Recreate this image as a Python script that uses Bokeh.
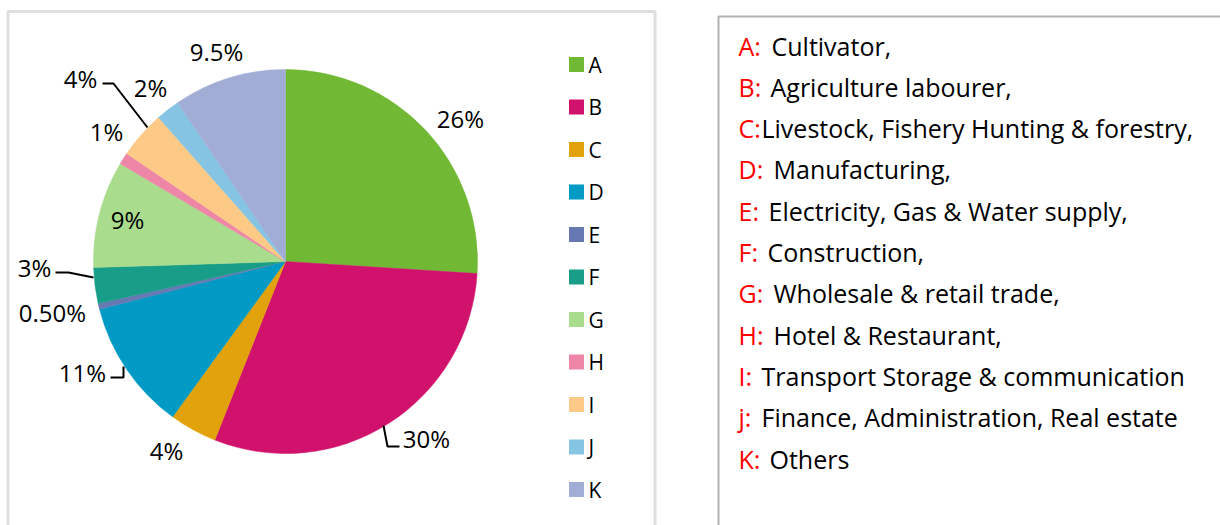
import math
from bokeh.plotting import figure
from bokeh.models import Range1d, BoxAnnotation, ColumnDataSource
from bokeh.core.properties import value
from bokeh.embed import file_html
from bokeh.resources import INLINE

# ---------------- data ----------------
categories = ["A", "B", "C", "D", "E", "F", "G", "H", "I", "J", "K"]
shares = [26, 30, 4, 11, 0.5, 3, 9, 1, 4, 2, 9.5]
share_labels = ["26%", "30%", "4%", "11%", "0.50%", "3%", "9%", "1%", "4%", "2%", "9.5%"]
colors = ["#71B934", "#D1126C", "#E2A20B", "#019AC4", "#6679B2", "#189E88",
          "#A9DC8D", "#EE87A7", "#FDC986", "#86C4E3", "#A2ADD6"]
prefixes = ["A:", "B:", "C:", "D:", "E:", "F:", "G:", "H:", "I:", "j:", "K:"]
descriptions = ["Cultivator,", "Agriculture labourer,", "Livestock, Fishery Hunting & forestry,",
                "Manufacturing,", "Electricity, Gas & Water supply,", "Construction,",
                "Wholesale & retail trade,", "Hotel & Restaurant,",
                "Transport Storage & communication", "Finance, Administration, Real estate",
                "Others"]

# ---------------- layout (image pixel coords) ----------------
W, H = 1220, 525
FONT = "Open Sans"

def Y(img_y):
    return 525 - img_y

p = figure(width=W, height=H, output_backend="svg", toolbar_location=None,
           x_range=Range1d(0, W), y_range=Range1d(0, H),
           x_axis_location=None, y_axis_location=None, min_border=0)
p.grid.visible = False
p.outline_line_color = None
p.background_fill_color = "white"

# panel borders
p.add_layout(BoxAnnotation(left=7.5, right=654.5, top=Y(11), bottom=-100,
                           fill_alpha=0, line_color="#969696", line_width=3))
p.add_layout(BoxAnnotation(left=718, right=1400, top=Y(16), bottom=-100,
                           fill_alpha=0, line_color="black", line_width=2))

# pie
cx, cy, r = 285, Y(261), 192
total = sum(shares)
starts, ends = [], []
acc = 0.0
for s in shares:
    starts.append(math.pi / 2 - 2 * math.pi * acc / total)
    acc += s
    ends.append(math.pi / 2 - 2 * math.pi * acc / total)
src = ColumnDataSource(dict(start=starts, end=ends, color=colors, cat=categories))
p.wedge(x=cx, y=cy, radius=r, start_angle="start", end_angle="end",
        direction="clock", fill_color="color", line_color="color", line_width=0.5,
        source=src)

# data labels
label_pos = [(460, 118), (426, 438), (166, 450), (82, 372), (52, 312), (34, 267),
             (127, 219), (106, 131), (80, 78), (150, 87), (216, 51)]
p.text(x=[q[0] for q in label_pos], y=[Y(q[1]) for q in label_pos], text=share_labels,
       text_font=value(FONT), text_font_size=value("24px"), text_color="black",
       text_align="center", text_baseline="middle")

# leader lines
leaders = [
    [(102, 83), (113, 83), (147, 127)],
    [(55, 272), (68, 272), (93, 277)],
    [(110, 377), (123, 377), (123, 366)],
    [(383, 425), (387, 446), (399, 446)],
]
p.multi_line(xs=[[pt[0] for pt in L] for L in leaders],
             ys=[[Y(pt[1]) for pt in L] for L in leaders],
             line_color="black", line_width=2)

# legend
leg_y = [64 + 42.5 * i for i in range(len(categories))]
p.scatter(x=[576] * len(categories), y=[Y(v) for v in leg_y], marker="square", size=15,
          fill_color=colors, line_color=None)
p.text(x=[588] * len(categories), y=[Y(v) for v in leg_y], text=categories,
       text_font=value(FONT), text_font_size=value("21px"), text_color="black",
       text_align="left", text_baseline="middle")

# description panel
mid_y = [45 + 41.3 * i for i in range(len(prefixes))]
desc_x = [771, 770, 761, 773, 768, 767, 773, 773, 761, 761, 769]
p.text(x=[738] * len(prefixes), y=[Y(v) for v in mid_y], text=prefixes,
       text_font=value(FONT), text_font_size=value("25px"), text_color="#FF0000",
       text_align="left", text_baseline="middle")
p.text(x=desc_x, y=[Y(v) for v in mid_y], text=descriptions,
       text_font=value(FONT), text_font_size=value("25px"), text_color="black",
       text_align="left", text_baseline="middle")

open("out.html", "w").write(file_html(p, INLINE))
